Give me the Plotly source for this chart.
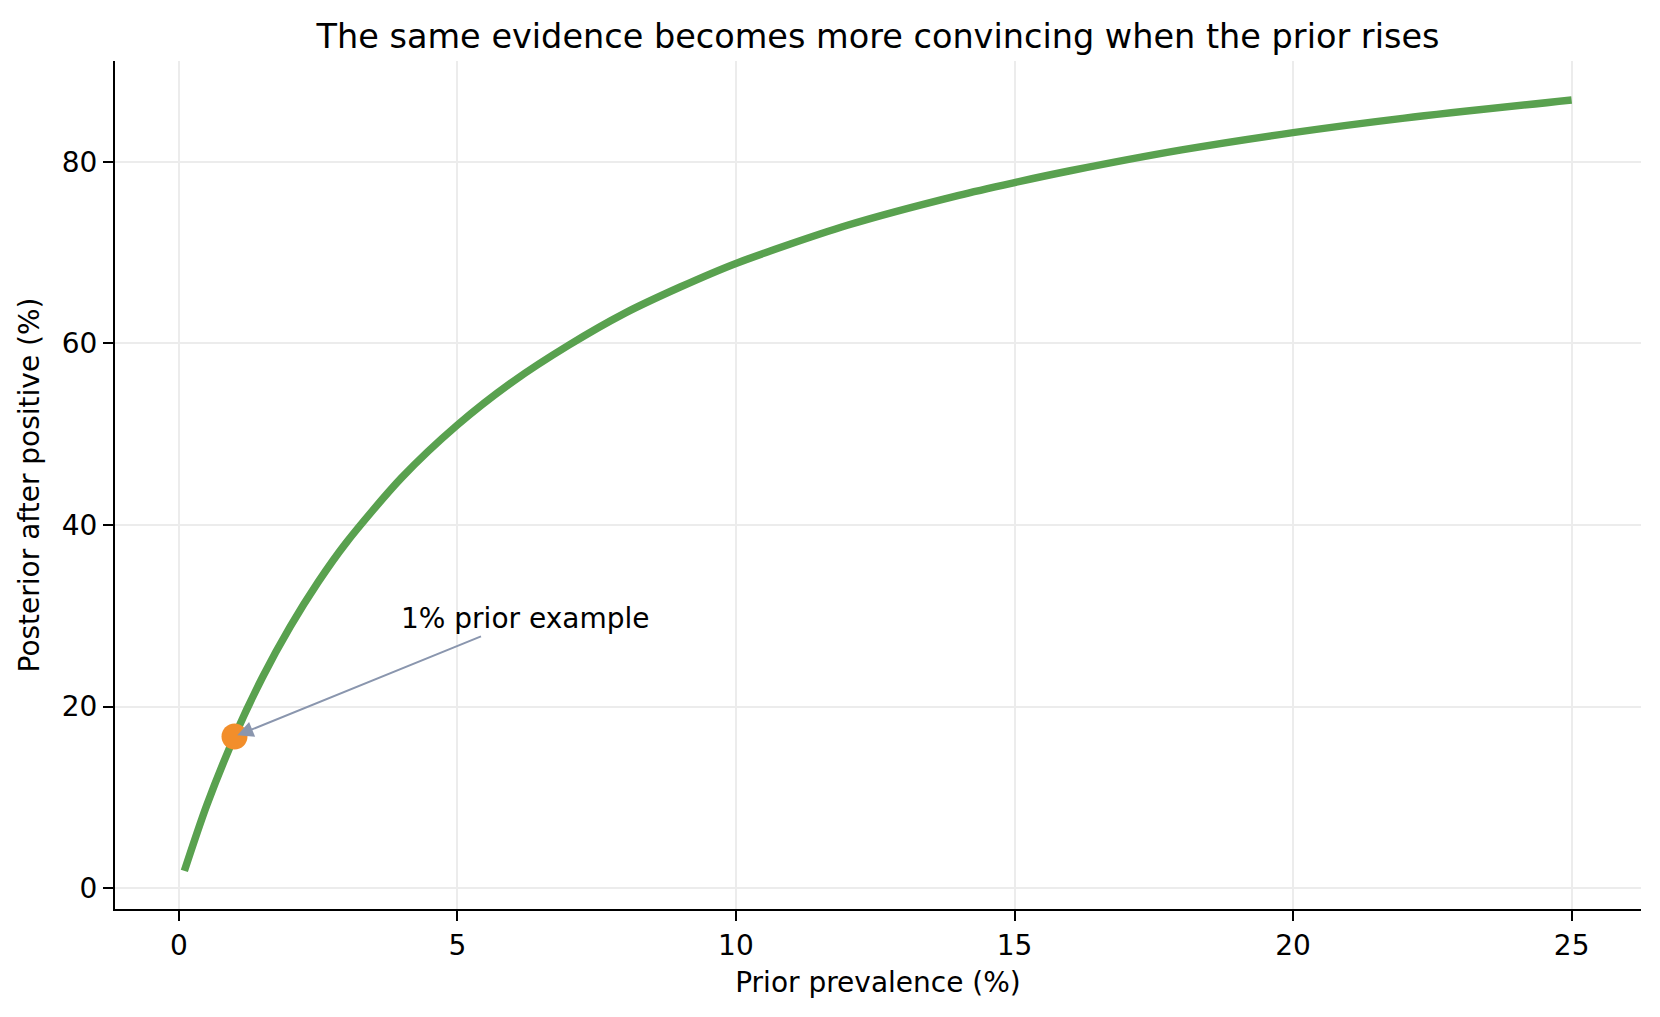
import plotly.graph_objects as go

# Values
prior_pct = [0.1, 0.5, 1.0, 1.5, 2.0, 2.5, 3.0, 4.0, 5.0, 6.0, 7.0, 8.0, 9.0, 10.0,
             12.0, 14.0, 15.0, 16.0, 18.0, 20.0, 22.0, 25.0]
posterior_pct = [1.9, 9.1, 16.7, 23.2, 28.8, 33.7, 38.0, 45.2, 51.0, 55.8, 59.8, 63.3, 66.2, 68.8,
                 73.0, 76.3, 77.7, 79.0, 81.3, 83.2, 84.8, 86.8]
example_prior = [1.0]
example_posterior = [16.7]
x_ticks = [0, 5, 10, 15, 20, 25]
y_ticks = [0, 20, 40, 60, 80]

title_text = "The same evidence becomes more convincing when the prior rises"
x_label = "Prior prevalence (%)"
y_label = "Posterior after positive (%)"
note_text = "1% prior example"

FONT = "DejaVu Sans"
GREEN = "#59a14f"
ORANGE = "#f28e2b"
ARROW = "#8a96ae"
GRID = "#ececec"

fig = go.Figure()
fig.add_trace(go.Scatter(
    x=prior_pct, y=posterior_pct, mode="lines",
    line=dict(color=GREEN, width=7.5, shape="spline", smoothing=0.8),
    showlegend=False, hoverinfo="skip",
))
fig.add_trace(go.Scatter(
    x=example_prior, y=example_posterior, mode="markers",
    marker=dict(color=ORANGE, size=26, line=dict(width=0)),
    showlegend=False, hoverinfo="skip",
))

fig.add_annotation(
    x=example_prior[0], y=example_posterior[0], xref="x", yref="y",
    ax=6.22, ay=29.7, axref="x", ayref="y",
    text=note_text, showarrow=True,
    arrowhead=2, arrowsize=1.6, arrowwidth=2, arrowcolor=ARROW, standoff=3,
    font=dict(family=FONT, size=28, color="black"),
)

fig.update_layout(
    width=1660, height=1017,
    margin=dict(l=107, r=27, t=53, b=116),
    paper_bgcolor="white", plot_bgcolor="white",
    font=dict(family=FONT, color="black"),
    title=dict(text=title_text, x=0.5, xref="paper", y=1 - 28 / 1017, yref="container",
               yanchor="middle", xanchor="center",
               font=dict(family=FONT, size=33.5, color="black")),
)
fig.update_xaxes(
    range=[-1.145, 26.245], tickvals=x_ticks, ticktext=[str(v) for v in x_ticks],
    showgrid=True, gridcolor=GRID, gridwidth=1.5, zeroline=False,
    showline=True, linecolor="black", linewidth=2.2, mirror=False,
    ticks="outside", ticklen=10, tickwidth=2.2, tickcolor="black",
    tickfont=dict(family=FONT, size=28, color="black"),
    title=dict(text=x_label, font=dict(family=FONT, size=28, color="black"), standoff=12),
)
fig.update_yaxes(
    range=[-2.3, 91.09], tickvals=y_ticks, ticktext=[str(v) for v in y_ticks],
    showgrid=True, gridcolor=GRID, gridwidth=1.5, zeroline=False,
    showline=True, linecolor="black", linewidth=2.2, mirror=False,
    ticks="outside", ticklen=10, tickwidth=2.2, tickcolor="black",
    tickfont=dict(family=FONT, size=28, color="black"),
    title=dict(text=y_label, font=dict(family=FONT, size=28, color="black"), standoff=14),
)

fig.write_html("out.html")
